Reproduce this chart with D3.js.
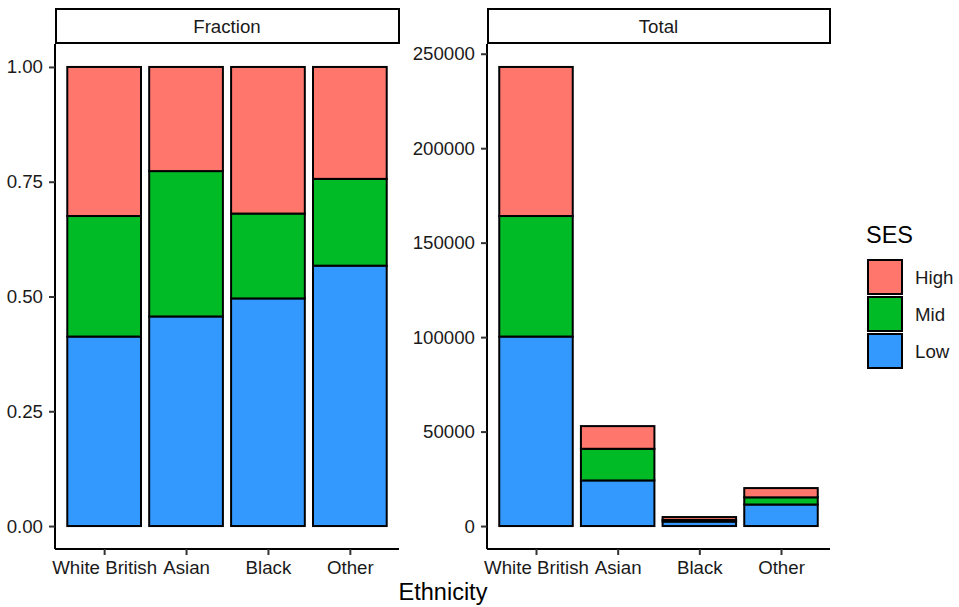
<!DOCTYPE html>
<html><head><meta charset="utf-8">
<script src="https://cdn.jsdelivr.net/npm/d3@7"></script>
<style>body{margin:0;background:#fff;} text{font-family:"Liberation Sans",Arial,sans-serif;}</style>
</head><body><svg id="c" width="959" height="607"></svg>
<script>
const categories = ["White British","Asian","Black","Other"];
const sesLevels = ["Low","Mid","High"];
const lowCounts = [100300, 24150, 2360, 11400];
const midCounts = [63800, 16750, 880, 3800];
const highCounts = [78900, 12000, 1520, 4900];
const fractionTicks = [0, 0.25, 0.5, 0.75, 1.0];
const totalTicks = [0, 50000, 100000, 150000, 200000, 250000];
const colorsFill = {High:"#FF766D", Mid:"#00BA26", Low:"#3399FF"};

const svg = d3.select("#c");
const counts = {Low: lowCounts, Mid: midCounts, High: highCounts};
const rows = categories.map((c,i)=>{
  const r = {cat:c};
  sesLevels.forEach(s=>r[s]=counts[s][i]);
  r.total = sesLevels.reduce((a,s)=>a+r[s],0);
  return r;
});
const fracRows = rows.map(r=>{
  const o={cat:r.cat}; sesLevels.forEach(s=>o[s]=r[s]/r.total); return o;
});

const panelTop = 44, panelBottom = 549;
const FS = 18.7, TFS = 23.5, TXT = "#1a1a1a";
const panels = [
  {name:"Fraction", x0:55, x1:399, data:fracRows, dataMax:1, ticks:fractionTicks, fmt:d3.format(".2f")},
  {name:"Total", x0:487, x1:830, data:rows, dataMax:d3.max(rows,r=>r.total), ticks:totalTicks, fmt:d=>String(d)}
];
const stack = d3.stack().keys(sesLevels);

panels.forEach(p=>{
  const g = svg.append("g");
  const n = categories.length;
  const unit = (p.x1-p.x0)/(n-1+1.2);
  const x = d3.scalePoint().domain(categories).range([p.x0+0.6*unit, p.x1-0.6*unit]);
  const bw = unit*0.9;
  const y = d3.scaleLinear().domain([-0.05*p.dataMax, p.dataMax*1.05]).range([panelBottom, panelTop]);
  const series = stack(p.data);
  series.forEach(s=>{
    g.selectAll(null).data(s).enter().append("rect")
      .attr("x", (d,i)=>x(categories[i])-bw/2)
      .attr("width", bw)
      .attr("y", d=>y(d[1]))
      .attr("height", d=>y(d[0])-y(d[1]))
      .attr("fill", colorsFill[s.key])
      .attr("stroke","#000").attr("stroke-width",2);
  });
  const ya = g.append("g").attr("transform",`translate(${p.x0},0)`)
    .call(d3.axisLeft(y).tickValues(p.ticks).tickFormat(p.fmt).tickSize(6).tickPadding(6));
  ya.select(".domain").attr("d",`M0,${panelTop}V${panelBottom}`).attr("stroke","#000").attr("stroke-width",2);
  ya.selectAll(".tick line").attr("stroke","#333").attr("stroke-width",2);
  ya.selectAll(".tick text").attr("font-size",FS).attr("fill",TXT).attr("font-family","Liberation Sans, Arial, sans-serif");
  const xa = g.append("g").attr("transform",`translate(0,${panelBottom})`)
    .call(d3.axisBottom(x).tickSize(6).tickPadding(6));
  xa.select(".domain").attr("d",`M${p.x0},0H${p.x1}`).attr("stroke","#000").attr("stroke-width",2);
  xa.selectAll(".tick line").attr("stroke","#333").attr("stroke-width",2);
  xa.selectAll(".tick text").attr("font-size",FS).attr("fill",TXT).attr("font-family","Liberation Sans, Arial, sans-serif");
  g.append("rect").attr("x",p.x0+1).attr("y",9).attr("width",p.x1-p.x0-1).attr("height",34)
    .attr("fill","#fff").attr("stroke","#000").attr("stroke-width",2);
  g.append("text").attr("x",(p.x0+p.x1)/2).attr("y",32.5).attr("text-anchor","middle")
    .attr("font-size",FS).attr("fill",TXT).text(p.name);
});

svg.append("text").attr("x",443).attr("y",600).attr("text-anchor","middle")
  .attr("font-size",TFS).attr("fill","#000").text("Ethnicity");

const lg = svg.append("g");
lg.append("text").attr("x",866).attr("y",243).attr("font-size",TFS).attr("fill","#000").text("SES");
["High","Mid","Low"].forEach((s,i)=>{
  const yy = 260 + i*37;
  lg.append("rect").attr("x",868).attr("y",yy).attr("width",34).attr("height",34)
    .attr("fill",colorsFill[s]).attr("stroke","#000").attr("stroke-width",2);
  lg.append("text").attr("x",915).attr("y",yy+24).attr("font-size",FS).attr("fill",TXT).text(s);
});
</script></body></html>
